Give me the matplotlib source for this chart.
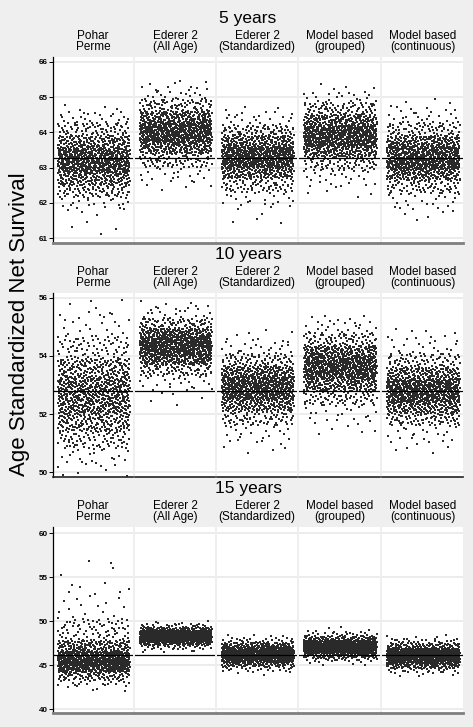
import numpy as np
import matplotlib
matplotlib.use("Agg")
import matplotlib.pyplot as plt

plt.rcParams['font.family'] = ['Liberation Sans', 'DejaVu Sans']

# Categorias (colunas) e paineis
metodos = ["Pohar\nPerme", "Ederer 2\n(All Age)", "Ederer 2\n(Standardized)",
           "Model based\n(grouped)", "Model based\n(continuous)"]
paineis = ["5 years", "10 years", "15 years"]

# Valores de referencia (linha horizontal) por painel
referencia = [63.27, 52.8, 46.14]

probs = [0, 0.005, 0.025, 0.10, 0.25, 0.50, 0.75, 0.90, 0.975, 0.995, 1]

q5_pohar = [61.05, 61.8, 62.15, 62.5, 62.85, 63.2, 63.55, 63.9, 64.3, 64.6, 64.85]
q5_e2_all = [62.3, 62.6, 63.0, 63.4, 63.7, 64.0, 64.3, 64.6, 64.95, 65.3, 65.5]
q5_e2_std = [61.4, 61.9, 62.3, 62.7, 63.0, 63.3, 63.6, 63.9, 64.2, 64.55, 64.75]
q5_mb_grp = [62.1, 62.45, 62.9, 63.3, 63.6, 63.9, 64.2, 64.5, 64.85, 65.15, 65.4]
q5_mb_cont = [61.5, 61.8, 62.25, 62.65, 62.95, 63.25, 63.6, 63.9, 64.3, 64.7, 64.95]

q10_pohar = [49.8, 50.2, 50.8, 51.4, 52.0, 52.65, 53.3, 53.9, 54.7, 55.5, 56.0]
q10_e2_all = [52.3, 52.8, 53.3, 53.7, 54.0, 54.35, 54.65, 54.95, 55.3, 55.7, 55.9]
q10_e2_std = [50.6, 51.0, 51.6, 52.1, 52.5, 52.9, 53.3, 53.65, 54.1, 54.6, 55.0]
q10_mb_grp = [51.3, 51.7, 52.3, 52.8, 53.2, 53.6, 54.0, 54.35, 54.8, 55.2, 55.4]
q10_mb_cont = [50.6, 51.0, 51.6, 52.0, 52.4, 52.8, 53.2, 53.6, 54.1, 54.7, 55.0]

q15_pohar = [42.0, 42.6, 43.3, 44.2, 44.9, 45.6, 46.5, 47.8, 50.3, 54.0, 57.0]
q15_e2_all = [46.4, 46.8, 47.2, 47.6, 47.95, 48.3, 48.6, 48.9, 49.3, 49.7, 50.1]
q15_e2_std = [43.8, 44.3, 44.8, 45.3, 45.75, 46.2, 46.65, 47.1, 47.6, 48.1, 48.5]
q15_mb_grp = [45.0, 45.4, 45.8, 46.3, 46.65, 47.0, 47.4, 47.8, 48.3, 48.8, 49.3]
q15_mb_cont = [43.6, 44.1, 44.6, 45.1, 45.6, 46.05, 46.5, 46.9, 47.5, 48.0, 48.5]

quantis = [
    [q5_pohar, q5_e2_all, q5_e2_std, q5_mb_grp, q5_mb_cont],
    [q10_pohar, q10_e2_all, q10_e2_std, q10_mb_grp, q10_mb_cont],
    [q15_pohar, q15_e2_all, q15_e2_std, q15_mb_grp, q15_mb_cont],
]

# Eixos y
limites = [(60.86, 66.14), (49.83, 56.17), (39.55, 60.7)]
ticks = [[61, 62, 63, 64, 65, 66], [50, 52, 54, 56], [40, 45, 50, 55, 60]]
n_sim = 1000


def halton(i, base):
    f, r = 1.0, 0.0
    while i > 0:
        f /= base
        r += f * (i % base)
        i //= base
    return r


# ================================ LAYOUT (pixels) ================================
W, H = 473, 727
bg = '#efefef'
fig = plt.figure(figsize=(W / 100, H / 100), dpi=100, facecolor=bg)

colunas_x = [(53, 133), (135, 215), (217, 297), (299, 380), (382, 463)]
paineis_y = [(57, 243), (293, 477), (527, 713)]
cor_eixo = ['#7f7f7f', '#222222', '#7f7f7f']

for p, (ytop, ybot) in enumerate(paineis_y):
    fig.text(248 / W, 1 - (ytop - 38) / H, paineis[p], ha='center', va='center', fontsize=12.5)
    for c, (x0, x1) in enumerate(colunas_x):
        ax = fig.add_axes([x0 / W, 1 - ybot / H, (x1 - x0) / W, (ybot - ytop) / H])
        ax.set_facecolor('white')
        ax.set_xlim(0, 1)
        ax.set_ylim(*limites[p])
        ax.set_yticks(ticks[p])
        ax.set_xticks([])
        ax.grid(axis='y', color='#e9e9e9', lw=1.2, zorder=0)
        ax.set_axisbelow(True)
        for s in ['top', 'right']:
            ax.spines[s].set_visible(False)
        ax.spines['bottom'].set_color(cor_eixo[p])
        ax.spines['bottom'].set_linewidth(2.0 if p != 1 else 1.2)
        if c == 0:
            ax.spines['left'].set_color('black')
            ax.spines['left'].set_linewidth(0.9)
            ax.tick_params(axis='y', length=3, width=0.7, pad=1, labelsize=5.8)
            for lab in ax.get_yticklabels():
                lab.set_fontweight('bold')
        else:
            ax.spines['left'].set_visible(False)
            ax.tick_params(axis='y', length=0, labelleft=False)

        # pontos: quantis lidos + jitter horizontal quase-aleatorio (Halton)
        idx = np.arange(1, n_sim + 1) + (p * 5 + c) * n_sim
        u = np.array([halton(i, 3) for i in idx])
        xs = 0.06 + 0.9 * np.array([halton(i, 2) for i in idx])
        ys = np.interp(u, probs, quantis[p][c])
        ax.plot(xs, ys, 's', ms=2.1, mew=0, color='#2a2a2a', zorder=2)
        ax.axhline(referencia[p], color='black', lw=0.9, zorder=3)

        fig.text(((x0 + x1) / 2) / W, 1 - (ytop - 4) / H, metodos[c], ha='center',
                 va='bottom', fontsize=8.5, linespacing=0.92)

fig.text(20 / W, 1 - 324 / H, "Age Standardized Net Survival", rotation=90,
         ha='center', va='center', fontsize=16)

fig.savefig("out.png", dpi=100, facecolor=bg)
